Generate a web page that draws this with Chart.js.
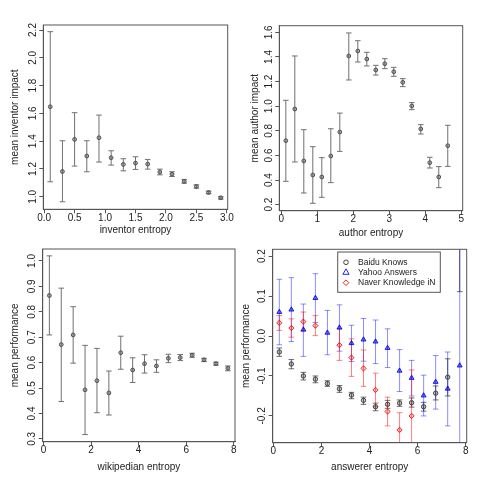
<!DOCTYPE html>
<html>
<head>
<meta charset="utf-8">
<script src="https://cdn.jsdelivr.net/npm/chart.js@4/dist/chart.umd.min.js"></script>
<style>
html, body { margin: 0; padding: 0; background: #fff; }
#wrap { position: relative; width: 480px; height: 480px; }
canvas { position: absolute; }
</style>
</head>
<body>
<div id="wrap">
  <canvas id="c1" width="240" height="240" style="left:0;top:0"></canvas>
  <canvas id="c2" width="240" height="240" style="left:240px;top:0"></canvas>
  <canvas id="c3" width="240" height="240" style="left:0;top:240px"></canvas>
  <canvas id="c4" width="240" height="240" style="left:240px;top:240px"></canvas>
</div>
<script>
// inventor panel
var invX = [0.1, 0.3, 0.5, 0.7, 0.9, 1.1, 1.3, 1.5, 1.7, 1.9, 2.1, 2.3, 2.5, 2.7, 2.9];
var invMean = [1.648, 1.182, 1.413, 1.293, 1.425, 1.281, 1.233, 1.242, 1.235, 1.178, 1.163, 1.110, 1.074, 1.031, 0.993];
var invLo = [1.108, 0.964, 1.221, 1.180, 1.250, 1.228, 1.187, 1.197, 1.199, 1.158, 1.146, 1.098, 1.062, 1.022, 0.983];
var invHi = [2.188, 1.403, 1.605, 1.403, 1.588, 1.331, 1.274, 1.288, 1.269, 1.199, 1.180, 1.125, 1.086, 1.041, 1.000];
var invXTicks = [0, 0.5, 1, 1.5, 2, 2.5, 3];
var invYTicks = [1.0, 1.2, 1.4, 1.6, 1.8, 2.0, 2.2];

// author panel
var autX = [0.125, 0.375, 0.625, 0.875, 1.125, 1.375, 1.625, 1.875, 2.125, 2.375, 2.625, 2.875, 3.125, 3.375, 3.625, 3.875, 4.125, 4.375, 4.625];
var autMean = [0.720, 0.977, 0.555, 0.441, 0.425, 0.595, 0.790, 1.408, 1.448, 1.383, 1.294, 1.345, 1.280, 1.194, 1.002, 0.815, 0.541, 0.425, 0.679];
var autLo = [0.390, 0.547, 0.295, 0.211, 0.260, 0.379, 0.633, 1.213, 1.359, 1.327, 1.253, 1.305, 1.243, 1.159, 0.972, 0.774, 0.498, 0.338, 0.511];
var autHi = [1.048, 1.408, 0.809, 0.671, 0.582, 0.817, 0.944, 1.595, 1.532, 1.438, 1.332, 1.386, 1.316, 1.224, 1.029, 0.850, 0.585, 0.509, 0.845];
var autXTicks = [0, 1, 2, 3, 4, 5];
var autYTicks = [0.2, 0.4, 0.6, 0.8, 1.0, 1.2, 1.4, 1.6];

// wikipedian panel
var wikX = [0.25, 0.75, 1.25, 1.75, 2.25, 2.75, 3.25, 3.75, 4.25, 4.75, 5.25, 5.75, 6.25, 6.75, 7.25, 7.75];
var wikMean = [0.864, 0.671, 0.709, 0.493, 0.529, 0.481, 0.639, 0.571, 0.596, 0.587, 0.617, 0.620, 0.629, 0.611, 0.596, 0.578];
var wikLo = [0.709, 0.447, 0.598, 0.317, 0.403, 0.394, 0.574, 0.522, 0.559, 0.562, 0.600, 0.608, 0.621, 0.604, 0.590, 0.568];
var wikHi = [1.020, 0.893, 0.820, 0.668, 0.656, 0.567, 0.704, 0.619, 0.631, 0.611, 0.633, 0.632, 0.637, 0.617, 0.602, 0.587];
var wikXTicks = [0, 2, 4, 6, 8];
var wikYTicks = [0.3, 0.4, 0.5, 0.6, 0.7, 0.8, 0.9, 1.0];

// answerer panel
var ansX = [0.25, 0.75, 1.25, 1.75, 2.25, 2.75, 3.25, 3.75, 4.25, 4.75, 5.25, 5.75, 6.25, 6.75, 7.25, 7.75];
var baiduMean = [-0.040, -0.070, -0.100, -0.108, -0.119, -0.132, -0.148, -0.161, -0.177, -0.171, -0.168, -0.167, -0.177, -0.143, -0.103, 0.300];
var baiduLo = [-0.051, -0.082, -0.110, -0.117, -0.126, -0.141, -0.157, -0.171, -0.187, -0.181, -0.176, -0.178, -0.188, -0.160, -0.150, 0.111];
var baiduHi = [-0.030, -0.059, -0.091, -0.100, -0.112, -0.124, -0.141, -0.153, -0.168, -0.161, -0.160, -0.155, -0.166, -0.125, -0.057, 0.489];
var yahooMean = [0.060, 0.066, 0.016, 0.095, 0.008, 0.021, -0.018, -0.009, -0.014, -0.030, -0.087, -0.105, -0.149, -0.115, -0.132, -0.074];
var yahooLo = [-0.022, -0.014, -0.051, 0.034, -0.047, -0.038, -0.064, -0.063, -0.069, -0.079, -0.139, -0.150, -0.200, -0.183, -0.225, -0.400];
var yahooHi = [0.142, 0.146, 0.080, 0.156, 0.064, 0.078, 0.027, 0.044, 0.040, 0.018, -0.034, -0.061, -0.098, -0.049, -0.040, 0.252];
var naverX = [0.25, 0.75, 1.25, 1.75, 2.75, 3.25, 3.75, 4.25, 4.75, 5.25, 5.75];
var naverMean = [0.033, 0.020, 0.036, 0.026, -0.023, -0.054, -0.081, -0.135, -0.189, -0.235, -0.200];
var naverLo = [0.014, -0.003, 0.012, 0.001, -0.061, -0.101, -0.126, -0.177, -0.225, -0.278, -0.315];
var naverHi = [0.051, 0.043, 0.060, 0.051, 0.018, -0.007, -0.035, -0.093, -0.153, -0.192, -0.085];
var ansXTicks = [0, 2, 4, 6, 8];
var ansYTicks = [-0.2, -0.1, 0.0, 0.1, 0.2];

var FONT = '"Liberation Sans", Arial, sans-serif';
var TEXT = '#222';
var AXIS = '#555';

function pts(xs, ys) {
  return xs.map(function (x, i) { return { x: x, y: ys[i] }; });
}

function grayDataset(xs, mean, lo, hi) {
  return {
    data: pts(xs, mean),
    errLo: lo, errHi: hi, errColor: '#707070',
    pointStyle: 'circle', pointRadius: 1.9,
    backgroundColor: 'rgba(90,90,90,0.45)', borderColor: '#505050', borderWidth: 1,
    showLine: false
  };
}

var errorBars = {
  id: 'errorBars',
  beforeDatasetsDraw: function (chart) {
    var ctx = chart.ctx, a = chart.chartArea;
    var xs = chart.scales.x, ys = chart.scales.y;
    ctx.save();
    ctx.beginPath();
    ctx.rect(a.left, a.top, a.right - a.left, a.bottom - a.top);
    ctx.clip();
    chart.data.datasets.forEach(function (ds) {
      if (!ds.errLo) return;
      ctx.strokeStyle = ds.errColor;
      ctx.lineWidth = 1;
      ds.data.forEach(function (p, i) {
        var px = xs.getPixelForValue(p.x);
        var pl = ys.getPixelForValue(ds.errLo[i]);
        var ph = ys.getPixelForValue(ds.errHi[i]);
        ctx.beginPath();
        ctx.moveTo(px, pl); ctx.lineTo(px, ph);
        ctx.moveTo(px - 2.8, pl); ctx.lineTo(px + 2.8, pl);
        ctx.moveTo(px - 2.8, ph); ctx.lineTo(px + 2.8, ph);
        ctx.stroke();
      });
    });
    ctx.restore();
  }
};

var frameBox = {
  id: 'frameBox',
  afterDraw: function (chart) {
    var ctx = chart.ctx, a = chart.chartArea;
    ctx.save();
    ctx.strokeStyle = AXIS;
    ctx.lineWidth = 1;
    ctx.strokeRect(a.left, a.top, a.right - a.left, a.bottom - a.top);
    ctx.restore();
  }
};

function marker(ctx, style, x, y, r) {
  ctx.beginPath();
  if (style === 'triangle') {
    ctx.moveTo(x, y - r);
    ctx.lineTo(x + r * 0.866, y + r * 0.5);
    ctx.lineTo(x - r * 0.866, y + r * 0.5);
    ctx.closePath();
  } else if (style === 'rectRot') {
    ctx.moveTo(x, y - r); ctx.lineTo(x + r, y); ctx.lineTo(x, y + r); ctx.lineTo(x - r, y);
    ctx.closePath();
  } else {
    ctx.arc(x, y, r, 0, Math.PI * 2);
  }
  ctx.stroke();
}

var boxLegend = {
  id: 'boxLegend',
  afterDraw: function (chart) {
    var ctx = chart.ctx, a = chart.chartArea;
    var bx = a.left + 65, by = a.top + 2.7, bw = 102.6, bh = 40.3;
    ctx.save();
    ctx.fillStyle = '#fff';
    ctx.fillRect(bx, by, bw, bh);
    ctx.strokeStyle = AXIS;
    ctx.lineWidth = 1;
    ctx.strokeRect(bx, by, bw, bh);
    ctx.font = '8.5px ' + FONT;
    ctx.textBaseline = 'middle';
    chart.data.datasets.forEach(function (ds, i) {
      var y = by + 10.3 + i * 10.2;
      ctx.strokeStyle = ds.borderColor;
      ctx.lineWidth = 1;
      marker(ctx, ds.pointStyle, bx + 8.3, y, ds.legendR);
      ctx.fillStyle = TEXT;
      ctx.fillText(ds.label, bx + 20.3, y);
    });
    ctx.restore();
  }
};

function makePanel(id, geo, xr, yr, xTicks, yTicks, xDec, yDec, xTitle, yTitle, datasets, plugins) {
  var axisLeft = geo.yTitleX - 6;
  var axisBottom = geo.xTitleY + 6;
  var tickFont = { family: FONT, size: 10, lineHeight: 1 };
  var titleFont = { family: FONT, size: 10, lineHeight: 1.2 };
  return new Chart(document.getElementById(id), {
    type: 'scatter',
    data: { datasets: datasets },
    options: {
      responsive: false,
      animation: false,
      devicePixelRatio: 1,
      layout: { padding: { left: axisLeft, top: geo.t, right: 240 - geo.r, bottom: 240 - axisBottom } },
      plugins: { legend: { display: false }, tooltip: { enabled: false } },
      scales: {
        x: {
          type: 'linear', min: xr[0], max: xr[1],
          afterBuildTicks: function (s) { s.ticks = xTicks.map(function (v) { return { value: v }; }); },
          afterFit: function (s) { s.height = axisBottom - geo.b; s.paddingLeft = 0; s.paddingRight = 0; },
          ticks: {
            autoSkip: false, minRotation: 0, maxRotation: 0, padding: 0,
            font: tickFont, color: TEXT,
            callback: function (v) { return Number(v).toFixed(xDec); }
          },
          grid: { drawOnChartArea: false, drawTicks: true, tickLength: 4, color: AXIS },
          border: { display: true, color: AXIS },
          title: { display: true, text: xTitle, font: titleFont, color: TEXT, padding: 0 }
        },
        y: {
          type: 'linear', min: yr[0], max: yr[1],
          afterBuildTicks: function (s) { s.ticks = yTicks.map(function (v) { return { value: v }; }); },
          afterFit: function (s) { s.width = geo.l - axisLeft; s.paddingTop = 0; s.paddingBottom = 0; },
          ticks: {
            autoSkip: false, minRotation: 90, maxRotation: 90, padding: geo.yPad,
            crossAlign: 'center', font: tickFont, color: TEXT,
            callback: function (v) { return Number(v).toFixed(yDec); }
          },
          grid: { drawOnChartArea: false, drawTicks: true, tickLength: 4, color: AXIS },
          border: { display: true, color: AXIS },
          title: { display: true, text: yTitle, font: titleFont, color: TEXT, padding: 0 }
        }
      }
    },
    plugins: plugins
  });
}

makePanel('c1', { l: 43.3, r: 227.7, t: 25, b: 209.3, yTitleX: 15, xTitleY: 230.5, yPad: -0.5 },
  [-0.014, 3.014], [0.91, 2.236], invXTicks, invYTicks, 1, 1,
  'inventor entropy', 'mean inventor impact',
  [grayDataset(invX, invMean, invLo, invHi)], [errorBars, frameBox]);

makePanel('c2', { l: 39.3, r: 222.7, t: 25.7, b: 210.7, yTitleX: 15.3, xTitleY: 233, yPad: -0.5 },
  [-0.056, 5.04], [0.151, 1.654], autXTicks, autYTicks, 0, 1,
  'author entropy', 'mean author impact',
  [grayDataset(autX, autMean, autLo, autHi)], [errorBars, frameBox]);

makePanel('c3', { l: 42.7, r: 236.7, t: 9, b: 201.7, yTitleX: 15, xTitleY: 227, yPad: -0.5 },
  [-0.03, 8.05], [0.289, 1.047], wikXTicks, wikYTicks, 0, 1,
  'wikipedian entropy', 'mean performance',
  [grayDataset(wikX, wikMean, wikLo, wikHi)], [errorBars, frameBox]);

makePanel('c4', { l: 32.7, r: 226.7, t: 9.3, b: 202.7, yTitleX: 6, xTitleY: 227.7, yPad: -2.1 },
  [-0.025, 8.04], [-0.267, 0.217], ansXTicks, ansYTicks, 0, 1,
  'answerer entropy', 'mean performance',
  [
    {
      label: 'Baidu Knows', data: pts(ansX, baiduMean),
      errLo: baiduLo, errHi: baiduHi, errColor: 'rgba(30,30,30,0.65)',
      pointStyle: 'circle', pointRadius: 2.2, legendR: 2.3,
      backgroundColor: 'rgba(60,60,60,0.3)', borderColor: '#444', borderWidth: 1
    },
    {
      label: 'Yahoo Answers', data: pts(ansX, yahooMean),
      errLo: yahooLo, errHi: yahooHi, errColor: 'rgba(0,0,255,0.45)',
      pointStyle: 'triangle', pointRadius: 2.8, legendR: 3.6,
      backgroundColor: 'rgba(0,0,255,0.5)', borderColor: 'rgba(0,0,230,0.85)', borderWidth: 1
    },
    {
      label: 'Naver Knowledge iN', data: pts(naverX, naverMean),
      errLo: naverLo, errHi: naverHi, errColor: 'rgba(255,0,0,0.5)',
      pointStyle: 'rectRot', pointRadius: 2.6, legendR: 2.8,
      backgroundColor: 'rgba(255,0,0,0.2)', borderColor: 'rgba(240,0,0,0.85)', borderWidth: 1
    }
  ], [errorBars, frameBox, boxLegend]);
</script>
</body>
</html>
